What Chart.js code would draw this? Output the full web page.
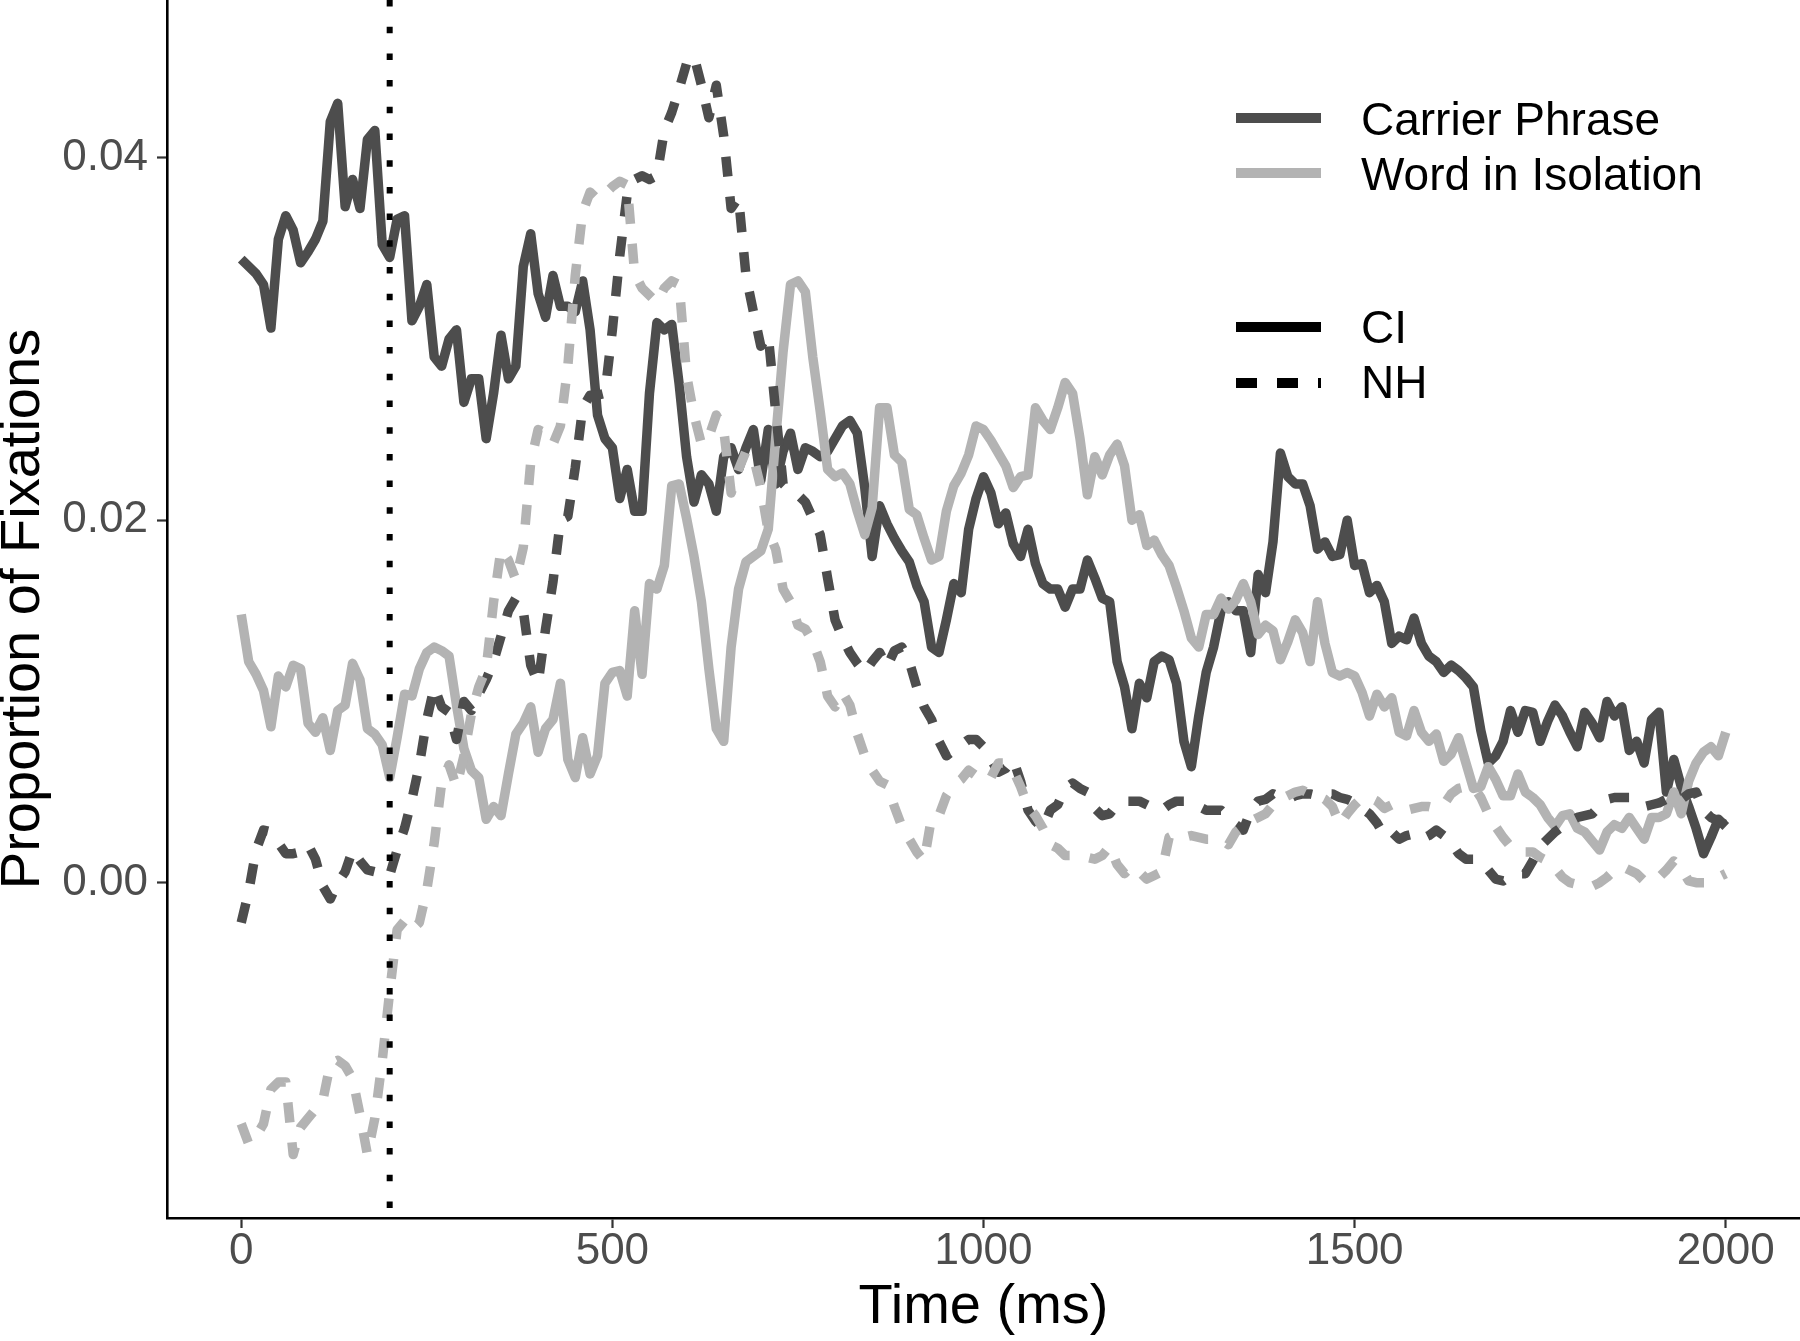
<!DOCTYPE html>
<html>
<head>
<meta charset="utf-8">
<title>Proportion of Fixations over Time</title>
<script src="https://cdn.jsdelivr.net/npm/chart.js@4.4.1/dist/chart.umd.min.js"></script>
<style>
  html, body { margin: 0; padding: 0; background: #fff; }
  #wrap { width: 1800px; height: 1341px; }
</style>
</head>
<body>
<div id="wrap"><canvas id="chart" width="1800" height="1341"></canvas></div>
<script>
// sample times in ms (one reading every 10 ms, 0 - 2000)
var timeStep = 10;
var times = [];
for (var t = 0; t <= 2000; t += timeStep) times.push(t);

// Carrier Phrase, CI listeners
var cpCI = [
  .0344,.0340,.0336,.0330,.0306,.0355,.0368,.0360,.0342,.0348,
  .0355,.0365,.0420,.0430,.0373,.0388,.0372,.0410,.0415,.0352,
  .0345,.0366,.0368,.0310,.0318,.0330,.0290,.0285,.0300,.0305,
  .0265,.0278,.0278,.0245,.0270,.0302,.0278,.0285,.0340,.0358,
  .0325,.0312,.0335,.0318,.0318,.0315,.0332,.0305,.0258,.0245,
  .0240,.0212,.0228,.0205,.0205,.0270,.0309,.0305,.0308,.0275,
  .0235,.0210,.0225,.0220,.0205,.0235,.0240,.0228,.0240,.0250,
  .0222,.0250,.0220,.0238,.0248,.0228,.0240,.0238,.0235,.0238,
  .0245,.0252,.0255,.0248,.0218,.0180,.0208,.0198,.0190,.0183,
  .0177,.0164,.0155,.0130,.0127,.0145,.0165,.0160,.0195,.0212,
  .0224,.0215,.0198,.0204,.0187,.0180,.0195,.0176,.0165,.0162,
  .0162,.0152,.0162,.0162,.0178,.0168,.0157,.0155,.0122,.0108,
  .0085,.0110,.0102,.0122,.0125,.0123,.0110,.0078,.0064,.0092,
  .0116,.0130,.0150,.0155,.0150,.0150,.0127,.0170,.0160,.0188,
  .0237,.0224,.0220,.0220,.0208,.0184,.0188,.0180,.0181,.0200,
  .0175,.0176,.0160,.0164,.0155,.0132,.0136,.0134,.0146,.0132,
  .0125,.0122,.0116,.0120,.0117,.0113,.0108,.0084,.0066,.0070,
  .0078,.0095,.0083,.0095,.0094,.0078,.0089,.0098,.0092,.0083,
  .0075,.0094,.0088,.0080,.0100,.0092,.0097,.0073,.0078,.0066,
  .0090,.0094,.0050,.0068,.0053,.0042,.0030,.0016,.0025,.0035,
  .0031
];

// Carrier Phrase, NH listeners
var cpNH = [
  -.0022,-.0005,.0018,.0029,.0028,.0022,.0016,.0016,.0017,.0021,
  .0013,-.0002,-.0009,.0000,.0006,.0018,.0012,.0007,.0006,.0006,
  .0004,.0018,.0030,.0046,.0065,.0090,.0108,.0097,.0094,.0079,
  .0100,.0095,.0104,.0112,.0122,.0136,.0150,.0157,.0150,.0120,
  .0110,.0140,.0166,.0200,.0202,.0229,.0262,.0269,.0269,.0270,
  .0305,.0346,.0380,.0388,.0390,.0388,.0390,.0415,.0425,.0438,
  .0452,.0456,.0440,.0422,.0440,.0412,.0372,.0378,.0335,.0315,
  .0296,.0302,.0260,.0220,.0216,.0214,.0210,.0201,.0192,.0168,
  .0145,.0135,.0127,.0121,.0116,.0122,.0127,.0119,.0128,.0130,
  .0122,.0108,.0097,.0090,.0078,.0070,.0073,.0076,.0079,.0079,
  .0075,.0068,.0061,.0063,.0068,.0056,.0040,.0034,.0030,.0040,
  .0043,.0052,.0055,.0052,.0050,.0041,.0037,.0038,.0043,.0045,
  .0045,.0045,.0043,.0041,.0040,.0043,.0045,.0045,.0044,.0042,
  .0040,.0040,.0040,.0036,.0032,.0029,.0040,.0045,.0046,.0049,
  .0047,.0046,.0048,.0049,.0049,.0048,.0049,.0049,.0047,.0046,
  .0044,.0041,.0038,.0033,.0026,.0028,.0024,.0026,.0027,.0024,
  .0026,.0029,.0026,.0022,.0016,.0013,.0013,.0012,.0007,.0002,
  .0001,.0004,.0005,.0005,.0012,.0020,.0024,.0028,.0031,.0034,
  .0036,.0037,.0038,.0042,.0046,.0047,.0047,.0047,.0044,.0042,
  .0043,.0044,.0046,.0044,.0046,.0049,.0050,.0040,.0036,.0034,
  .0032
];

// Word in Isolation, CI listeners
var wiCI = [
  .0148,.0122,.0115,.0106,.0086,.0114,.0108,.0120,.0118,.0088,
  .0083,.0091,.0073,.0095,.0098,.0121,.0112,.0085,.0082,.0076,
  .0058,.0080,.0104,.0103,.0118,.0127,.0130,.0128,.0125,.0098,
  .0074,.0062,.0058,.0035,.0042,.0037,.0060,.0082,.0088,.0097,
  .0072,.0085,.0090,.0110,.0068,.0058,.0080,.0060,.0070,.0110,
  .0116,.0117,.0103,.0150,.0115,.0165,.0162,.0175,.0219,.0220,
  .0201,.0180,.0155,.0118,.0085,.0078,.0130,.0162,.0177,.0180,
  .0183,.0195,.0245,.0293,.0330,.0332,.0326,.0290,.0260,.0228,
  .0224,.0226,.0220,.0205,.0192,.0207,.0262,.0262,.0236,.0232,
  .0206,.0203,.0190,.0178,.0180,.0205,.0219,.0226,.0236,.0252,
  .0250,.0244,.0237,.0230,.0218,.0224,.0225,.0262,.0255,.0250,
  .0262,.0276,.0270,.0245,.0214,.0235,.0225,.0236,.0242,.0230,
  .0200,.0203,.0186,.0189,.0181,.0175,.0163,.0150,.0135,.0130,
  .0148,.0148,.0157,.0151,.0156,.0165,.0155,.0137,.0142,.0139,
  .0123,.0133,.0145,.0138,.0122,.0155,.0132,.0116,.0114,.0116,
  .0114,.0105,.0092,.0104,.0097,.0102,.0083,.0081,.0095,.0083,
  .0078,.0082,.0067,.0071,.0080,.0066,.0052,.0053,.0064,.0057,
  .0048,.0048,.0060,.0050,.0047,.0043,.0036,.0031,.0037,.0038,
  .0030,.0028,.0023,.0018,.0028,.0032,.0030,.0036,.0030,.0024,
  .0036,.0036,.0038,.0050,.0038,.0056,.0066,.0072,.0075,.0070,
  .0083
];

// Word in Isolation, NH listeners
var wiNH = [
  -.0133,-.0144,-.0140,-.0133,-.0114,-.0110,-.0110,-.0150,-.0135,-.0130,
  -.0125,-.0120,-.0100,-.0098,-.0101,-.0108,-.0128,-.0150,-.0130,-.0098,
  -.0060,-.0026,-.0021,-.0026,-.0022,-.0004,.0022,.0055,.0065,.0053,
  .0070,.0093,.0108,.0118,.0155,.0184,.0178,.0167,.0185,.0232,
  .0250,.0248,.0242,.0252,.0285,.0335,.0370,.0381,.0377,.0380,
  .0384,.0387,.0385,.0336,.0328,.0324,.0320,.0328,.0332,.0330,
  .0280,.0258,.0242,.0246,.0258,.0250,.0215,.0228,.0238,.0235,
  .0218,.0194,.0184,.0162,.0155,.0142,.0140,.0133,.0122,.0103,
  .0097,.0105,.0098,.0082,.0070,.0062,.0056,.0054,.0042,.0031,
  .0024,.0017,.0012,.0036,.0037,.0048,.0054,.0057,.0062,.0059,
  .0056,.0058,.0066,.0066,.0062,.0053,.0042,.0037,.0030,.0021,
  .0019,.0015,.0015,.0015,.0014,.0013,.0015,.0020,.0010,.0005,
  .0009,.0006,.0002,.0004,.0006,.0025,.0027,.0025,.0026,.0025,
  .0024,.0024,.0024,.0021,.0028,.0031,.0034,.0036,.0038,.0043,
  .0046,.0048,.0050,.0051,.0049,.0048,.0046,.0042,.0032,.0038,
  .0043,.0047,.0047,.0045,.0041,.0043,.0042,.0040,.0041,.0042,
  .0042,.0041,.0043,.0049,.0052,.0053,.0053,.0047,.0038,.0031,
  .0025,.0020,.0017,.0017,.0017,.0014,.0012,.0008,.0003,.0000,
  -.0001,-.0001,-.0002,.0000,.0003,.0007,.0009,.0007,.0005,.0001,
  .0001,.0003,.0007,.0012,.0008,.0001,.0000,.0000,.0000,.0003,
  .0005
];

var xTicks = [0, 500, 1000, 1500, 2000];
var yTicks = [0, 0.02, 0.04];
var onsetTime = 200;   // dotted line
var conditionLabels = ['Carrier Phrase', 'Word in Isolation'];
var groupLabels = ['CI', 'NH'];

var darkGrey = '#4D4D4D';
var lightGrey = '#B3B3B3';
var dashNH = [20, 20];

Chart.defaults.font.family = '"Liberation Sans", Arial, sans-serif';

function toPoints(vals) {
  return times.map(function (t, i) { return { x: t, y: vals[i] }; });
}

function lineSet(label, vals, color, dash, order) {
  return {
    label: label,
    data: toPoints(vals),
    borderColor: color,
    borderWidth: 9.5,
    borderDash: dash,
    borderJoinStyle: 'round',
    borderCapStyle: 'butt',
    pointRadius: 0,
    pointHoverRadius: 0,
    fill: false,
    tension: 0,
    order: order
  };
}

// dotted line at word onset
var onsetLine = {
  id: 'onsetLine',
  afterDatasetsDraw: function (chart) {
    var ctx = chart.ctx, area = chart.chartArea;
    var x = chart.scales.x.getPixelForValue(onsetTime);
    ctx.save();
    ctx.strokeStyle = '#000';
    ctx.lineWidth = 6;
    ctx.setLineDash([6.5, 20.2]);
    ctx.beginPath();
    ctx.moveTo(x, area.top);
    ctx.lineTo(x, area.bottom);
    ctx.stroke();
    ctx.restore();
  }
};

// two-part legend (colour = condition, linetype = group)
var keyLegend = {
  id: 'keyLegend',
  afterDraw: function (chart) {
    var ctx = chart.ctx;
    var rows = [
      { text: conditionLabels[0], color: darkGrey, dash: [], y: 118, base: 135 },
      { text: conditionLabels[1], color: lightGrey, dash: [], y: 173, base: 190 },
      { text: groupLabels[0], color: '#000', dash: [], y: 327, base: 343 },
      { text: groupLabels[1], color: '#000', dash: [21, 20], y: 383, base: 398 }
    ];
    ctx.save();
    rows.forEach(function (r) {
      ctx.strokeStyle = r.color;
      ctx.lineWidth = 10;
      ctx.lineCap = 'butt';
      ctx.setLineDash(r.dash);
      ctx.beginPath();
      ctx.moveTo(1236, r.y);
      ctx.lineTo(1321, r.y);
      ctx.stroke();
      ctx.setLineDash([]);
      ctx.fillStyle = '#000';
      ctx.font = '46px "Liberation Sans", Arial, sans-serif';
      ctx.textBaseline = 'alphabetic';
      ctx.textAlign = 'left';
      ctx.fillText(r.text, 1361, r.base);
    });
    ctx.restore();
  }
};

var ctx = document.getElementById('chart');
var chart = new Chart(ctx, {
  type: 'line',
  data: {
    datasets: [
      lineSet(conditionLabels[0] + ' ' + groupLabels[0], cpCI, darkGrey, [], 4),
      lineSet(conditionLabels[1] + ' ' + groupLabels[0], wiCI, lightGrey, [], 3),
      lineSet(conditionLabels[0] + ' ' + groupLabels[1], cpNH, darkGrey, dashNH, 2),
      lineSet(conditionLabels[1] + ' ' + groupLabels[1], wiNH, lightGrey, dashNH, 1)
    ]
  },
  options: {
    responsive: false,
    devicePixelRatio: 1,
    animation: false,
    events: [],
    layout: { padding: 0 },
    plugins: {
      legend: { display: false },
      tooltip: { enabled: false }
    },
    scales: {
      x: {
        type: 'linear',
        min: -100,
        max: 2100,
        afterBuildTicks: function (s) { s.ticks = xTicks.map(function (v) { return { value: v }; }); },
        afterFit: function (s) { s.height = 123; s.paddingLeft = 0; s.paddingRight = 0; },
        grid: { drawOnChartArea: false, drawTicks: true, tickLength: 10, tickWidth: 2.2, tickColor: '#333333' },
        border: { display: true, color: '#000', width: 2.6 },
        ticks: {
          color: darkGrey,
          font: { size: 44, lineHeight: 1 },
          padding: 2,
          maxRotation: 0,
          autoSkip: false,
          callback: function (v) { return String(v); }
        },
        title: {
          display: true,
          text: 'Time (ms)',
          color: '#000',
          font: { size: 56, lineHeight: 1.18 },
          padding: 0
        }
      },
      y: {
        type: 'linear',
        min: -0.0185,
        max: 0.0487,
        afterBuildTicks: function (s) { s.ticks = yTicks.map(function (v) { return { value: v }; }); },
        afterFit: function (s) { s.width = 167; s.paddingTop = 0; s.paddingBottom = 0; },
        grid: { drawOnChartArea: false, drawTicks: true, tickLength: 10, tickWidth: 2.2, tickColor: '#333333' },
        border: { display: true, color: '#000', width: 2.6 },
        ticks: {
          color: darkGrey,
          font: { size: 44 },
          padding: 9,
          autoSkip: false,
          callback: function (v) { return v.toFixed(2); }
        },
        title: {
          display: true,
          text: 'Proportion of Fixations',
          color: '#000',
          font: { size: 56, lineHeight: 0.857 },
          padding: 0
        }
      }
    }
  },
  plugins: [onsetLine, keyLegend]
});
</script>
</body>
</html>
